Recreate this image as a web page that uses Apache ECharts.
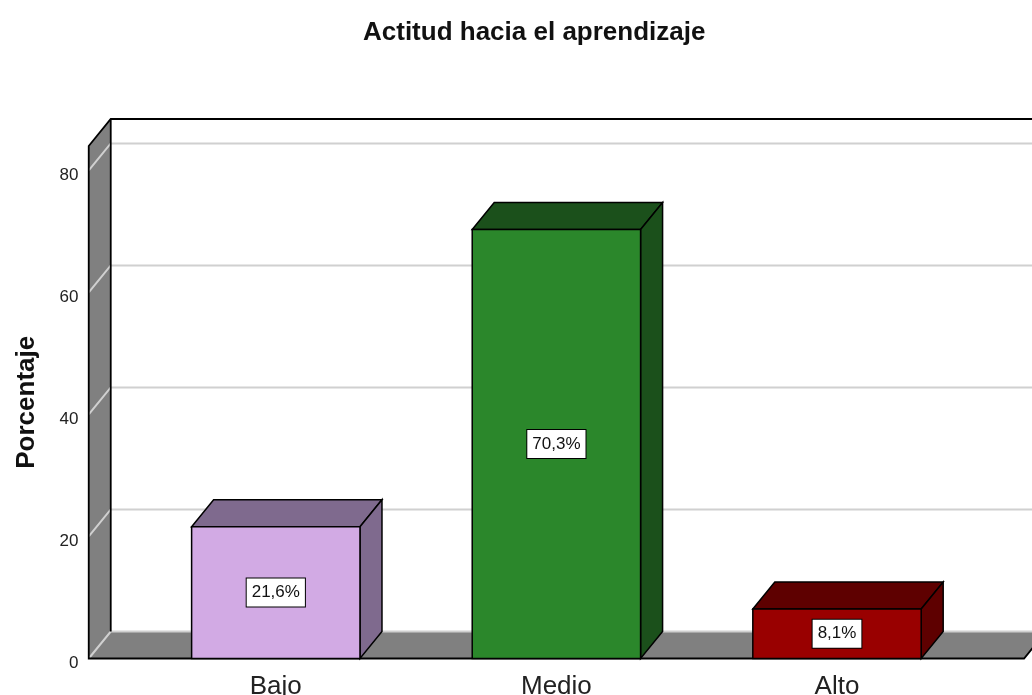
<!DOCTYPE html>
<html>
<head>
<meta charset="utf-8">
<script src="https://cdn.jsdelivr.net/npm/echarts@6/dist/echarts.min.js"></script>
<style>
    html, body { margin: 0; background: #fff; }
    #chart { width: 1032px; height: 695px; }
</style>
</head>
<body>
<div id="chart"></div>
<script>
// data
var categories = ['Bajo', 'Medio', 'Alto'];
var percentages = [21.6, 70.3, 8.1];
var valueLabels = ['21,6%', '70,3%', '8,1%'];
var yTicks = [0, 20, 40, 60, 80];
var yMax = 84;

// colours of each bar (front face / top+side faces)
var frontColors = ['#d2aae4', '#2b872b', '#990000'];
var shadeColors = ['#7f6a8e', '#1b501b', '#5e0000'];

var FONT = '"Liberation Sans", Arial, sans-serif';
var DX = 22, DY = -27; // depth of the 3d effect

var myChart = echarts.init(document.getElementById('chart'));

// walls, floor and gridlines
function renderFrame(params, api) {
    var band = api.size([1, 0])[0];
    var o = api.coord([0, 0]);
    var xL = o[0] - band / 2 - band / 6;
    var xR = api.coord([categories.length - 1, 0])[0] + band / 2 + band / 6;
    var y0 = o[1];
    var yT = api.coord([0, yMax])[1];
    var children = [];
    children.push({
        type: 'polygon',
        shape: { points: [[xL, y0], [xR, y0], [xR + DX, y0 + DY], [xL + DX, y0 + DY]] },
        style: { fill: '#808080' }
    });
    children.push({
        type: 'polygon',
        shape: { points: [[xL, y0], [xL, yT], [xL + DX, yT + DY], [xL + DX, y0 + DY]] },
        style: { fill: '#808080' }
    });
    yTicks.forEach(function (v) {
        var y = api.coord([0, v])[1];
        children.push({
            type: 'polyline',
            shape: { points: [[xL, y], [xL + DX, y + DY], [xR + DX + 40, y + DY]] },
            style: { stroke: '#d0d0d0', lineWidth: 2, fill: null }
        });
    });
    children.push({
        type: 'polyline',
        shape: { points: [[xR + DX, y0 + DY], [xR, y0], [xL, y0], [xL, yT], [xL + DX, yT + DY], [xR + DX + 40, yT + DY]] },
        style: { stroke: '#000', lineWidth: 1.8, fill: null }
    });
    children.push({
        type: 'line',
        shape: { x1: xL + DX, y1: yT + DY, x2: xL + DX, y2: y0 + DY },
        style: { stroke: '#000', lineWidth: 1.8 }
    });
    return { type: 'group', children: children };
}

// 3d boxes
function renderBar(params, api) {
    var i = api.value(0);
    var v = api.value(1);
    var band = api.size([1, 0])[0];
    var w = band * 0.6;
    var top = api.coord([i, v]);
    var base = api.coord([i, 0]);
    var l = top[0] - w / 2, r = top[0] + w / 2;
    var yt = top[1], yb = base[1];
    var edge = { stroke: '#000', lineWidth: 1.5 };
    return {
        type: 'group',
        children: [{
            type: 'polygon',
            shape: { points: [[l, yt], [l + DX, yt + DY], [r + DX, yt + DY], [r, yt]] },
            style: Object.assign({ fill: shadeColors[i] }, edge)
        }, {
            type: 'polygon',
            shape: { points: [[r, yt], [r + DX, yt + DY], [r + DX, yb + DY], [r, yb]] },
            style: Object.assign({ fill: shadeColors[i] }, edge)
        }, {
            type: 'rect',
            shape: { x: l, y: yt, width: w, height: yb - yt },
            style: Object.assign({ fill: frontColors[i] }, edge)
        }, {
            type: 'text',
            x: top[0],
            y: (yt + yb) / 2,
            style: {
                text: valueLabels[i],
                fill: '#111',
                font: '17px ' + FONT,
                align: 'center',
                verticalAlign: 'middle',
                backgroundColor: '#fff',
                borderColor: '#000',
                borderWidth: 1,
                padding: [6, 5, 5, 5]
            }
        }]
    };
}

var option = {
    animation: false,
    title: {
        text: 'Actitud hacia el aprendizaje',
        left: 358,
        top: 15,
        textStyle: { fontFamily: FONT, fontSize: 26, fontWeight: 'bold', color: '#111' }
    },
    grid: {
        left: 135.5,
        right: 54.7,
        top: 146,
        bottom: 36.5,
        outerBoundsMode: 'none'
    },
    xAxis: {
        type: 'category',
        data: categories,
        axisLine: { show: false },
        axisTick: { show: false },
        axisLabel: { fontFamily: FONT, fontSize: 26, color: '#222', margin: 15 }
    },
    yAxis: {
        type: 'value',
        min: 0,
        max: yMax,
        interval: 20,
        offset: 47,
        name: 'Porcentaje',
        nameLocation: 'middle',
        nameGap: 49,
        nameTextStyle: { fontFamily: FONT, fontSize: 26, fontWeight: 'bold', color: '#111' },
        axisLine: { show: false },
        axisTick: { show: false },
        splitLine: { show: false },
        axisLabel: {
            fontFamily: FONT, fontSize: 17, color: '#222', margin: 10,
            verticalAlign: 'top',
            lineHeight: 10,
            showMaxLabel: false
        }
    },
    series: [{
        name: 'frame',
        type: 'custom',
        clip: false,
        silent: true,
        z: 1,
        renderItem: renderFrame,
        data: [[0, 0]]
    }, {
        name: 'Porcentaje',
        type: 'custom',
        clip: false,
        z: 2,
        renderItem: renderBar,
        encode: { x: 0, y: 1 },
        data: percentages.map(function (v, i) { return [i, v]; })
    }]
};

myChart.setOption(option);
</script>
</body>
</html>
